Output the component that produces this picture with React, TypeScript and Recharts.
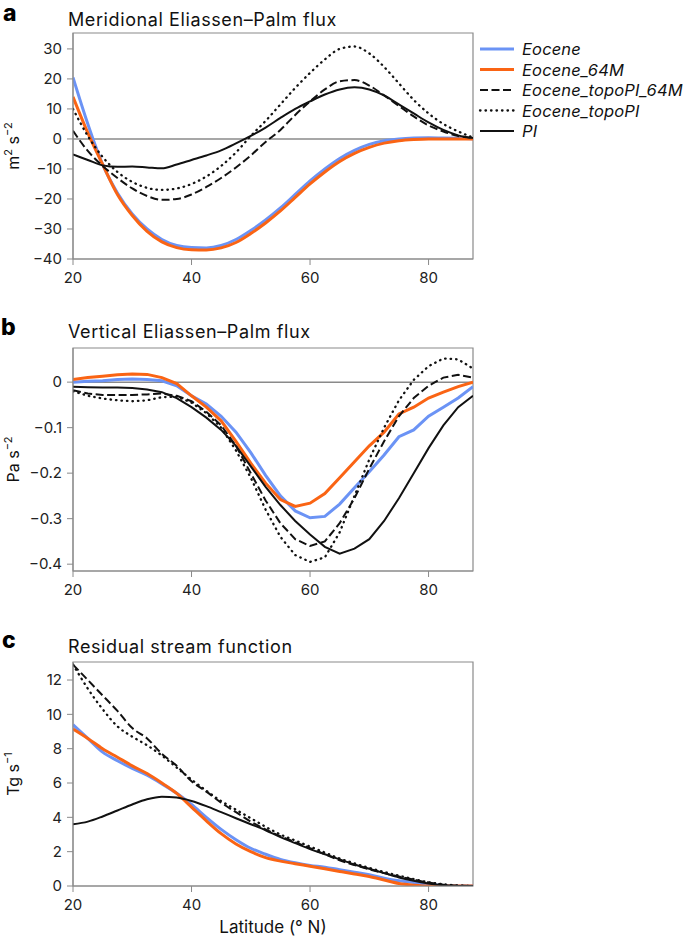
import React from 'react';
import { LineChart, Line, XAxis, YAxis, ReferenceLine, ReferenceArea } from 'recharts';

const FONT = 'Inter, "Noto Sans", sans-serif';
const AXIS_GREY = '#8a8a8a';

// latitude grid shared by all three panels (° N)
const latitudes = [
  20, 22.5, 25, 27.5, 30, 32.5, 35, 37.5, 40, 42.5, 45, 47.5, 50, 52.5,
  55, 57.5, 60, 62.5, 65, 67.5, 70, 72.5, 75, 77.5, 80, 82.5, 85, 87.5,
];
const latTicks = [20, 40, 60, 80];
const latDomain: [number, number] = [20, 87.5];

// a: meridional EP flux (m2 s-2)
const merEocene = [20.5, 5, -8.5, -18, -25, -30, -33.5, -35.5, -36.2, -36.3, -35.5, -33.5, -30.5, -27, -23, -18.5, -14, -10, -6.5, -3.8, -1.8, -0.6, 0, 0.3, 0.4, 0.3, 0.2, 0.1];
const merEocene64 = [14, 2, -8.5, -18.5, -25.5, -30.8, -34.3, -36.2, -36.9, -37, -36.3, -34.5, -31.5, -28, -24, -19.5, -15, -11, -7.5, -4.8, -2.8, -1.4, -0.6, -0.2, 0, 0, 0, 0];
const merTopo64 = [2.7, -4, -9, -13, -16.5, -19, -20.3, -20, -18.5, -16, -13, -9.5, -5.5, -1, 3, 8, 12.5, 16.5, 19.2, 19.6, 17.8, 14.5, 11, 7.5, 4.5, 2.5, 1, 0.3];
const merTopo = [10, 1, -6, -11, -14.3, -16.3, -17, -16.5, -15, -12.5, -9, -4.5, 1, 6, 11.5, 17, 22, 26.5, 30, 30.8, 28.5, 24, 18.5, 13, 8.5, 5, 2.5, 0.5];
const merPI = [-5.2, -7, -8.8, -9.3, -9.2, -9.5, -9.8, -8.5, -7, -5.5, -3.8, -1.5, 1, 3.8, 7, 10, 12.5, 14.8, 16.5, 17.2, 16.5, 14.5, 11.5, 8.5, 5.5, 3, 1.2, 0.3];
const merTicks = [-40, -30, -20, -10, 0, 10, 20, 30];

// b: vertical EP flux (Pa s-2)
const vertEocene = [0, 0.002, 0.003, 0.006, 0.007, 0.006, 0.003, -0.008, -0.03, -0.048, -0.075, -0.11, -0.155, -0.205, -0.25, -0.283, -0.298, -0.295, -0.268, -0.232, -0.197, -0.16, -0.12, -0.105, -0.075, -0.055, -0.035, -0.01];
const vertEocene64 = [0.006, 0.01, 0.013, 0.016, 0.018, 0.017, 0.01, -0.003, -0.03, -0.055, -0.085, -0.13, -0.178, -0.222, -0.258, -0.273, -0.266, -0.245, -0.21, -0.175, -0.14, -0.11, -0.07, -0.055, -0.035, -0.022, -0.01, 0];
const vertTopo64 = [-0.018, -0.025, -0.028, -0.028, -0.028, -0.027, -0.025, -0.03, -0.042, -0.065, -0.095, -0.14, -0.2, -0.26, -0.31, -0.345, -0.36, -0.35, -0.31, -0.255, -0.19, -0.13, -0.075, -0.035, -0.008, 0.01, 0.016, 0.01];
const vertTopo = [-0.02, -0.03, -0.036, -0.04, -0.042, -0.04, -0.033, -0.032, -0.045, -0.068, -0.1, -0.15, -0.21, -0.28, -0.34, -0.38, -0.395, -0.385, -0.33, -0.25, -0.17, -0.1, -0.04, 0.005, 0.035, 0.052, 0.05, 0.03];
const vertPI = [-0.01, -0.011, -0.012, -0.012, -0.013, -0.016, -0.022, -0.035, -0.055, -0.078, -0.105, -0.14, -0.185, -0.23, -0.27, -0.305, -0.335, -0.362, -0.377, -0.366, -0.345, -0.305, -0.255, -0.2, -0.145, -0.095, -0.055, -0.03];
const vertTicks = [-0.4, -0.3, -0.2, -0.1, 0];

// c: residual stream function (Tg s-1)
const resEocene = [9.4, 8.6, 7.8, 7.3, 6.85, 6.45, 5.95, 5.4, 4.75, 4.0, 3.3, 2.7, 2.2, 1.85, 1.55, 1.35, 1.2, 1.1, 0.95, 0.8, 0.65, 0.45, 0.3, 0.2, 0.1, 0.03, 0, 0];
const resEocene64 = [9.15, 8.6, 8.0, 7.5, 7.0, 6.55, 6.0, 5.4, 4.6, 3.8, 3.05, 2.45, 2.0, 1.65, 1.45, 1.3, 1.15, 1.0, 0.85, 0.7, 0.55, 0.35, 0.15, 0.05, 0, 0, 0, 0];
const resTopo64 = [12.9, 12, 11.1, 10.2, 9.2, 8.6, 7.7, 7.0, 6.1, 5.5, 4.85, 4.3, 3.75, 3.3, 2.9, 2.55, 2.2, 1.85, 1.5, 1.22, 0.97, 0.75, 0.55, 0.37, 0.2, 0.08, 0.02, 0];
const resTopo = [12.9, 11.5, 10.3, 9.3, 8.7, 8.2, 7.6, 6.9, 6.2, 5.55, 4.95, 4.45, 3.95, 3.45, 3.0, 2.65, 2.3, 1.95, 1.6, 1.32, 1.05, 0.82, 0.6, 0.4, 0.22, 0.1, 0.03, 0];
const resPI = [3.6, 3.75, 4.05, 4.4, 4.75, 5.05, 5.2, 5.15, 4.95, 4.65, 4.3, 3.95, 3.6, 3.25, 2.85, 2.5, 2.15, 1.85, 1.55, 1.25, 1.0, 0.75, 0.5, 0.3, 0.15, 0.05, 0, 0];
const resTicks = [0, 2, 4, 6, 8, 10, 12];

const series = [
  { key: 'eocene', name: 'Eocene', color: '#6b93f5', width: 3, dash: undefined as string | undefined, round: false },
  { key: 'eocene64', name: 'Eocene_64M', color: '#fa6414', width: 3, dash: undefined, round: false },
  { key: 'topo64', name: 'Eocene_topoPI_64M', color: '#111', width: 2, dash: '8 3.5', round: false },
  { key: 'topo', name: 'Eocene_topoPI', color: '#111', width: 2.3, dash: '0.5 5', round: true },
  { key: 'pi', name: 'PI', color: '#111', width: 2, dash: undefined, round: false },
];

const buildRows = (cols: number[][]) =>
  latitudes.map((lat, i) => ({
    lat,
    eocene: cols[0][i],
    eocene64: cols[1][i],
    topo64: cols[2][i],
    topo: cols[3][i],
    pi: cols[4][i],
  }));

const merRows = buildRows([merEocene, merEocene64, merTopo64, merTopo, merPI]);
const vertRows = buildRows([vertEocene, vertEocene64, vertTopo64, vertTopo, vertPI]);
const resRows = buildRows([resEocene, resEocene64, resTopo64, resTopo, resPI]);

const minus = (v: number) => String(v).replace('-', '\u2212');

const UnitLabel = (props: any) => {
  const { viewBox, base, exps } = props;
  const cx = viewBox.x + 19;
  const cy = viewBox.y + viewBox.height / 2;
  return (
    <text
      x={cx}
      y={cy}
      transform={`rotate(-90 ${cx} ${cy})`}
      textAnchor="middle"
      fontFamily={FONT}
      fontSize={16}
      fill="#111"
    >
      {base.map((b: string, i: number) => (
        <React.Fragment key={i}>
          <tspan dy={i === 0 ? 0 : 7}>{b}</tspan>
          <tspan dy={-7} fontSize={11}>{exps[i]}</tspan>
        </React.Fragment>
      ))}
    </text>
  );
};

const XLabel = (props: any) => {
  const { viewBox } = props;
  return (
    <text
      x={viewBox.x + viewBox.width / 2}
      y={viewBox.y + 47}
      textAnchor="middle"
      fontFamily={FONT}
      fontSize={17}
      fill="#111"
    >
      Latitude (° N)
    </text>
  );
};

interface PanelProps {
  top: number;
  height: number;
  marginTop: number;
  xHeight: number;
  rows: any[];
  domain: [number, number];
  ticks: number[];
  zeroLine?: boolean;
  curve: 'monotone' | 'linear';
  unitBase: string[];
  unitExps: string[];
  xLabel?: boolean;
}

const tickStyle = { fill: '#222', fontSize: 15, fontFamily: FONT };

const Panel: React.FC<PanelProps> = (p) => (
  <div style={{ position: 'absolute', left: 0, top: p.top }}>
    <LineChart
      width={685}
      height={p.height}
      data={p.rows}
      margin={{ top: p.marginTop, right: 212, bottom: 0, left: 0 }}
    >
      <XAxis
        dataKey="lat"
        type="number"
        domain={latDomain}
        ticks={latTicks}
        allowDataOverflow
        height={p.xHeight}
        tick={tickStyle}
        tickSize={6}
        tickMargin={7}
        axisLine={{ stroke: AXIS_GREY }}
        tickLine={{ stroke: AXIS_GREY }}
        label={p.xLabel ? { content: (lp: any) => <XLabel {...lp} /> } : undefined}
      />
      <YAxis
        type="number"
        domain={p.domain}
        ticks={p.ticks}
        allowDataOverflow
        width={73}
        tick={tickStyle}
        tickSize={6}
        tickMargin={5}
        tickFormatter={minus}
        axisLine={{ stroke: AXIS_GREY }}
        tickLine={{ stroke: AXIS_GREY }}
        label={{ content: (lp: any) => <UnitLabel {...lp} base={p.unitBase} exps={p.unitExps} /> }}
      />
      {/* plot frame */}
      <ReferenceArea
        x1={latDomain[0]}
        x2={latDomain[1]}
        y1={p.domain[0]}
        y2={p.domain[1]}
        fill="none"
        fillOpacity={0}
        stroke={AXIS_GREY}
        strokeWidth={1.2}
        ifOverflow="visible"
      />
      {p.zeroLine && <ReferenceLine y={0} stroke={AXIS_GREY} strokeWidth={1.5} />}
      {series.map((s) => (
        <Line
          key={s.key}
          dataKey={s.key}
          type={p.curve}
          stroke={s.color}
          strokeWidth={s.width}
          strokeDasharray={s.dash}
          strokeLinecap={s.round ? 'round' : 'butt'}
          dot={false}
          activeDot={false}
          isAnimationActive={false}
        />
      ))}
    </LineChart>
  </div>
);

const Overlay = () => (
  <svg
    width={685}
    height={940}
    style={{ position: 'absolute', left: 0, top: 0, pointerEvents: 'none' }}
    fontFamily={FONT}
  >
    <text x={3} y={21} fontSize={23} fontWeight={800} fill="#000">a</text>
    <text x={68} y={25.5} fontSize={18} letterSpacing={0.6} fill="#111">Meridional Eliassen–Palm flux</text>
    <text x={1} y={335} fontSize={23} fontWeight={800} fill="#000">b</text>
    <text x={68} y={337.5} fontSize={18} letterSpacing={0.6} fill="#111">Vertical Eliassen–Palm flux</text>
    <text x={2} y={648} fontSize={23} fontWeight={800} fill="#000">c</text>
    <text x={68} y={652.5} fontSize={18} letterSpacing={0.6} fill="#111">Residual stream function</text>
    {series.map((s, i) => {
      const y = 49 + i * 20.5;
      return (
        <g key={s.key}>
          <line
            x1={480}
            x2={514}
            y1={y}
            y2={y}
            stroke={s.color}
            strokeWidth={s.width}
            strokeDasharray={s.dash}
            strokeLinecap={s.round ? 'round' : 'butt'}
          />
          <text x={522} y={y + 6} fontSize={16.5} letterSpacing={0.15} fontStyle="italic" fill="#111">
            {s.name}
          </text>
        </g>
      );
    })}
  </svg>
);

export default function App() {
  return (
    <div style={{ position: 'absolute', left: 0, top: 0, width: 685, height: 940, background: '#fff' }}>
      <Panel
        top={0}
        height={295}
        marginTop={33}
        xHeight={36}
        rows={merRows}
        domain={[-40, 35.3]}
        ticks={merTicks}
        zeroLine
        curve="monotone"
        unitBase={['m', ' s']}
        unitExps={['2', '\u22122']}
      />
      <Panel
        top={300}
        height={310}
        marginTop={48}
        xHeight={39}
        rows={vertRows}
        domain={[-0.415, 0.075]}
        ticks={vertTicks}
        zeroLine
        curve="linear"
        unitBase={['Pa s']}
        unitExps={['\u22122']}
      />
      <Panel
        top={610}
        height={330}
        marginTop={52}
        xHeight={54}
        rows={resRows}
        domain={[0, 13.05]}
        ticks={resTicks}
        curve="monotone"
        unitBase={['Tg s']}
        unitExps={['\u22121']}
        xLabel
      />
      <Overlay />
    </div>
  );
}
